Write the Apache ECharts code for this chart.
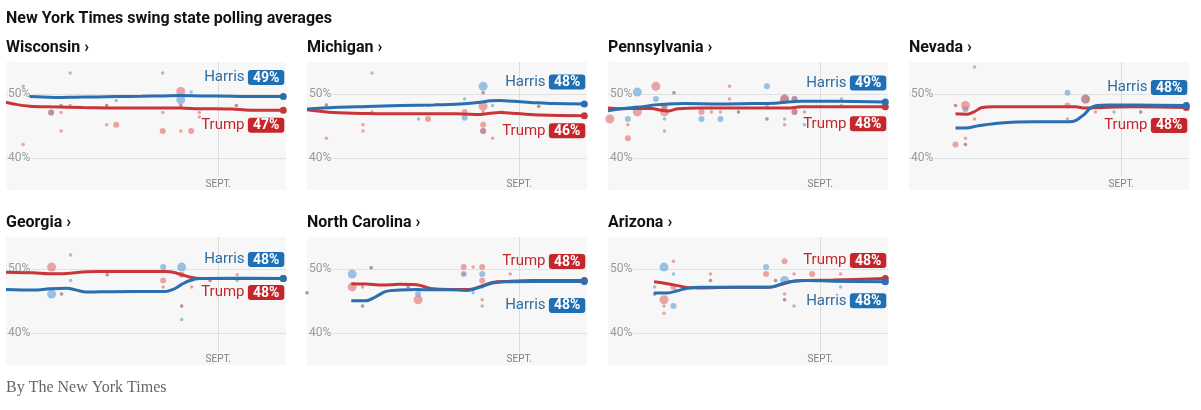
<!DOCTYPE html>
<html><head><meta charset="utf-8">
<script src="https://cdn.jsdelivr.net/npm/echarts@6/dist/echarts.min.js"></script>
<style>html,body{margin:0;padding:0;background:#fff}#c{width:1201px;height:410px}</style>
</head><body><div id="c"></div>
<script>
// ---- DATA (day = days since July 1; Sept 1 = day 62) ----
const states = ['Wisconsin','Michigan','Pennsylvania','Nevada','Georgia','North Carolina','Arizona'];
const harrisLatest = [49,48,49,48,48,48,48];
const trumpLatest  = [47,46,48,48,48,48,48];
const yTickLabels = [40, 50];
const septDay = 62;
const septLabel = 'SEPT.';

const wiHarrisAvg = [[20.2,49.6],[23,49.55],[26.8,49.45],[30,49.5],[35,49.55],[39.4,49.6],[45,49.65],[50,49.7],[53.4,49.75],[58,49.7],[65,49.65],[70,49.6],[76.4,49.6]];
const wiTrumpAvg  = [[15,48.7],[17,48.4],[20.2,48.1],[25,48.0],[32,47.9],[43,47.8],[53.4,47.8],[57.8,47.7],[65,47.65],[68,47.5],[70,47.45],[76.4,47.45]];
const wiHarrisPolls = [[18.8,51.2,1],[29.2,53.3,1],[49.7,53.3,1],[53.7,49.1,3],[56,50.3,1],[27.2,48.2,1],[37.3,48.2,1],[39.4,49,1],[53.7,48.2,1],[66,48.2,1],[25,47.1,2]];
const wiTrumpPolls  = [[18.8,42.1,1],[25,47.1,2],[27.2,48.2,1],[27.2,47.1,1],[27.2,44.2,1],[29.2,48.2,1],[37.3,45.2,1],[39.4,45.2,2],[49.7,44.2,2],[49.7,47.1,1],[53.7,50.4,3],[53.7,48.2,1],[53.7,44.2,1],[56,44.2,2],[57.8,47.1,1],[57.8,46.4,1],[66,48.2,1],[37.3,48.2,1]];

const miHarrisAvg = [[15,47.65],[20.9,47.9],[28.3,48.05],[35.7,48.2],[43,48.3],[49,48.45],[53.4,48.7],[55.6,48.95],[57.8,49.0],[60.8,48.85],[65.2,48.65],[69.6,48.5],[76.4,48.45]];
const miTrumpAvg  = [[15,47.55],[20.9,47.1],[28.3,46.95],[39,46.9],[48.2,46.9],[53.4,46.8],[55.6,47.0],[57.8,47.1],[61.5,46.95],[66.7,46.7],[76.4,46.6]];
const miHarrisPolls = [[19.3,48.3,1],[29.4,53.3,1],[39.7,46.1,1],[41.8,48.2,1],[49.9,49.2,1],[49.9,46.3,2],[54,51.2,3],[54,50.2,1],[54,44.2,2],[56.1,48.2,1],[66.3,48.1,1]];
const miTrumpPolls  = [[19.3,48.3,1],[19.3,43.1,1],[27.4,45.2,1],[27.4,44.2,1],[29.4,47.2,1],[41.8,46.1,2],[49.9,47.2,2],[54,48.1,3],[54,45.2,2],[54,44.2,2],[54,47.2,1],[54,50.2,1],[56.1,43.1,1],[58.2,47.2,1],[66.3,48.1,1]];

const paHarrisAvg = [[15,47.4],[19.4,47.8],[23.1,48.05],[25.3,48.3],[28.3,48.45],[32,48.5],[39,48.45],[46.7,48.5],[51.9,48.55],[54.8,48.75],[57.8,48.85],[65.2,48.85],[76.4,48.75]];
const paTrumpAvg  = [[15,47.8],[17.9,47.7],[20.9,47.75],[24.6,47.75],[26.8,47.45],[28.3,47.35],[30.5,47.7],[35.7,47.8],[46.7,47.8],[54.8,47.8],[57.8,48.0],[65.2,48.0],[76.4,48.0]];
const paHarrisPolls = [[19.4,46.1,2],[21.5,50.3,3],[25.6,49.2,2],[27.5,48.1,2],[27.5,46.1,1],[29.6,50.2,1],[35.7,46.1,2],[37.9,47.8,1],[39.9,46.1,2],[43.9,47.2,1],[50.2,51.2,2],[50.2,46.1,1],[54.1,49.2,3],[54.1,46.1,1],[56.3,49.2,2],[56.3,47.2,2],[58.5,45.2,1],[66.7,49.2,1]];
const paTrumpPolls  = [[15.4,46.1,3],[19.4,45.2,1],[19.4,43.1,2],[21.5,47.2,3],[25.6,51.2,3],[27.5,48.1,2],[27.5,47.2,3],[27.5,44.2,1],[29.6,50.2,1],[35.7,47.2,2],[37.9,47.2,1],[39.9,47.2,1],[41.9,51.2,1],[41.9,49.2,1],[43.9,47.2,1],[50.2,48.1,1],[50.2,46.1,1],[54.1,49.2,3],[54.1,45.2,1],[56.3,49.2,2],[56.3,47.2,2],[58.5,47.2,1],[66.7,48.2,1]];

const nvHarrisAvg = [[25.3,44.7],[27.5,44.7],[30.4,45.05],[34.1,45.4],[37.8,45.6],[43,45.65],[50.4,45.65],[51.9,45.85],[53.7,46.75],[55.2,47.8],[56.6,48.2],[59.2,48.3],[65.1,48.3],[76.4,48.2]];
const nvTrumpAvg  = [[25.3,46.9],[27.9,46.85],[29.4,47.2],[31.2,47.9],[33.8,48.0],[43,48.0],[51.9,48.0],[54,47.8],[57.8,47.9],[65.1,48.0],[76.4,47.9]];
const nvHarrisPolls = [[25.3,48.2,1],[27.5,47.6,2],[29.5,54.2,1],[27.5,42.1,1],[50.1,50.2,2],[54.1,49.2,3],[60.4,47.2,1],[66.3,47.2,1]];
const nvTrumpPolls  = [[25.3,48.2,1],[27.5,48.2,3],[29.5,46.1,1],[27.5,43.1,1],[27.5,42.1,1],[25.3,42.1,2],[50.1,48.2,2],[50.1,46.1,1],[54.1,49.2,3],[56.3,47.2,1],[66.3,47.2,1]];

const gaHarrisAvg = [[15,46.8],[21,46.7],[24.7,46.9],[28.4,47.0],[30.6,46.7],[32.8,46.4],[35.8,46.45],[43.2,46.5],[50.4,46.5],[52,46.8],[53.9,47.6],[55.7,48.2],[57.9,48.5],[65.3,48.55],[76.4,48.5]];
const gaTrumpAvg  = [[15,49.5],[21,49.4],[24.7,49.25],[28.4,49.3],[32.1,49.55],[35.8,49.6],[43.2,49.6],[50.4,49.6],[52,49.5],[53.9,49.1],[55.7,48.75],[57.9,48.5],[61.6,48.5],[76.4,48.5]];
const gaHarrisPolls = [[25.1,46.1,3],[27.3,46.1,1],[29.3,48.2,1],[37.4,49.1,1],[49.8,50.3,2],[53.9,50.3,3],[53.9,44.2,1],[53.9,42.1,1],[56.1,48.2,1],[60.2,48.2,1],[66.2,48.2,1]];
const gaTrumpPolls  = [[25.1,50.3,3],[27.3,46.1,1],[29.3,52.2,1],[37.4,49.1,1],[49.8,48.2,2],[49.8,47.2,1],[53.9,49.1,2],[53.9,44.2,1],[56.1,47.2,1],[60.2,48.2,1],[66.2,49.1,1]];

const ncHarrisAvg = [[24.8,45.05],[28.1,45.05],[30.3,45.7],[32.5,46.5],[35.5,46.7],[39.2,46.8],[42.9,46.75],[46.6,46.75],[50.3,46.65],[51.7,46.8],[53.9,47.3],[56.1,47.8],[59,48.0],[64.9,48.05],[76.4,48.05]];
const ncTrumpAvg  = [[24.8,47.7],[28.1,47.65],[31.8,47.5],[35.5,47.6],[39.2,47.55],[40.7,47.3],[42.9,46.9],[46.6,46.8],[50.3,46.8],[51.7,46.9],[53.9,47.4],[56.1,47.9],[59,48.05],[64.9,48.2],[76.4,48.2]];
const ncHarrisPolls = [[15,46.3,1],[25,49.2,3],[27.3,44.2,1],[29.2,50.2,1],[37.4,47.2,1],[39.6,46.1,2],[49.7,49.2,2],[51.8,46.3,1],[53.8,49.2,2],[53.8,47.2,1],[53.8,44.2,1]];
const ncTrumpPolls  = [[15,46.3,1],[25,47.2,3],[27.3,47.2,1],[27.3,44.2,1],[29.2,50.2,1],[37.4,47.2,1],[39.6,45.2,3],[49.7,50.3,2],[49.7,49.2,1],[51.8,50.3,1],[53.8,50.3,2],[53.8,48.2,2],[53.8,45.2,1],[60,49.2,1]];

const azHarrisAvg = [[25.2,46.25],[28.1,46.25],[30.4,46.6],[32.6,47.0],[35.5,47.15],[42.9,47.15],[50.3,47.15],[51.7,47.25],[53.9,47.8],[56.1,48.1],[59,48.2],[64.9,48.1],[76.4,48.0]];
const azTrumpAvg  = [[25.2,48.0],[28.1,47.7],[30.4,47.4],[32.6,47.1],[35.5,47.05],[42.9,47.15],[50.3,47.15],[51.7,47.25],[53.9,47.7],[56.1,48.1],[59,48.2],[64.9,48.3],[76.4,48.5]];
const azHarrisPolls = [[25.3,47.2,1],[25.3,46.1,1],[27.4,50.3,3],[29.5,49.2,1],[29.5,44.2,2],[37.7,48.2,1],[50,50.3,2],[52.1,48.2,1],[54.1,48.2,3],[54.1,45.2,1],[56.2,44.2,1],[60.2,48.2,1],[66.5,47.2,1]];
const azTrumpPolls  = [[25.3,46.1,1],[27.4,45.2,3],[27.4,44.2,1],[27.4,43.1,1],[29.5,51.2,1],[29.5,47.2,2],[37.7,49.2,1],[37.7,48.2,1],[50,49.2,2],[52.1,48.2,1],[54.1,51.2,2],[54.1,46.1,1],[54.1,45.2,1],[56.2,49.2,1],[60.2,49.2,2],[66.5,49.2,1]];

const harrisAvgs  = [wiHarrisAvg, miHarrisAvg, paHarrisAvg, nvHarrisAvg, gaHarrisAvg, ncHarrisAvg, azHarrisAvg];
const trumpAvgs   = [wiTrumpAvg, miTrumpAvg, paTrumpAvg, nvTrumpAvg, gaTrumpAvg, ncTrumpAvg, azTrumpAvg];
const harrisPolls = [wiHarrisPolls, miHarrisPolls, paHarrisPolls, nvHarrisPolls, gaHarrisPolls, ncHarrisPolls, azHarrisPolls];
const trumpPolls  = [wiTrumpPolls, miTrumpPolls, paTrumpPolls, nvTrumpPolls, gaTrumpPolls, ncTrumpPolls, azTrumpPolls];

// ---- LAYOUT / STYLE ----
const FONT = 'Roboto, "Noto Sans", sans-serif';
const BLUE = '#2a6fb0', RED = '#c9363a';
const BLUE_BADGE = '#1f6fb5', RED_BADGE = '#c4262c';
const BLUE_TXT = '#2f6ca3', RED_TXT = '#c0282e';
const PANEL_BG = '#f7f7f7';
const panelW = 280, panelH = 128;
// label vertical offsets (px) from line end: [harris, trump]
const labelDy = [[-19,15],[-22,15],[-19,17],[-18,18],[-19,14],[24,-19],[19,-18]];
const dotSize = {1:3.5, 2:6, 3:9};

const grids = [], xAxes = [], yAxes = [], series = [], titles = [];
titles.push({text:'New York Times swing state polling averages', left:6, top:11, padding:0,
  textStyle:{fontFamily:FONT, fontWeight:'bold', fontSize:16, color:'#121212'}});
titles.push({text:'By The New York Times', left:6, top:380, padding:0,
  textStyle:{fontFamily:'"Liberation Serif", serif', fontWeight:'normal', fontSize:16, color:'#666'}});

states.forEach((st, i) => {
  const col = i % 4, row = Math.floor(i / 4);
  const left = 6 + 301 * col, top = 62 + 175 * row;
  grids.push({left, top, width: panelW, height: panelH, show:true, backgroundColor: PANEL_BG, borderWidth:0, containLabel:false});
  titles.push({text: st + ' \u203A', left, top: top - 22, padding:0,
    textStyle:{fontFamily:FONT, fontWeight:'bold', fontSize:16, color:'#121212'}});
  xAxes.push({type:'value', gridIndex:i, min:15, max:77, show:false});
  yAxes.push({type:'value', gridIndex:i, min:35, max:55, interval:5,
    axisLine:{show:false}, axisTick:{show:false},
    splitLine:{show:true, lineStyle:{color:['rgba(0,0,0,0)','#e1e1e1','rgba(0,0,0,0)','#e1e1e1','rgba(0,0,0,0)'], width:1}},
    axisLabel:{inside:true, margin:2, color:'#999', fontSize:12, fontFamily:FONT,
      backgroundColor: PANEL_BG, padding:[1,1,1,0],
      formatter: v => yTickLabels.includes(v) ? v + '%' : ''}});

  const mkScatter = (arr, color, name) => ({
    type:'scatter', name, xAxisIndex:i, yAxisIndex:i, silent:true, z:1,
    data: arr.map(p => ({value:[p[0], p[1]], symbolSize: dotSize[p[2]]})),
    itemStyle:{color, opacity:0.6}
  });
  series.push(mkScatter(harrisPolls[i], '#5b9bd5', 'Harris polls'));
  series.push(mkScatter(trumpPolls[i], '#e06b6b', 'Trump polls'));

  const mkLine = (arr, color, name, pct, badge, txt, dy, extra) => Object.assign({
    type:'line', name, xAxisIndex:i, yAxisIndex:i, smooth:0.35, z:3, silent:true,
    symbol:'none', showSymbol:true,
    data: arr.map((p, k) => k === arr.length - 1
      ? {value:p, symbol:'circle', symbolSize:7, itemStyle:{color}}
      : {value:p}),
    lineStyle:{color, width:3},
    itemStyle:{color},
    endLabel:{show:true, align:'right', verticalAlign:'middle', distance:0, offset:[1, dy],
      formatter: () => '{n|' + name + '} {v|' + pct + '%}',
      rich:{
        n:{color:txt, fontSize:15, fontFamily:FONT},
        v:{color:'#fff', backgroundColor:badge, fontWeight:'bold', fontSize:14, fontFamily:FONT,
           lineHeight:15, padding:[1,5,0,5], borderRadius:3}
      }}
  }, extra || {});

  series.push(mkLine(trumpAvgs[i], RED, 'Trump', trumpLatest[i], RED_BADGE, RED_TXT, labelDy[i][1]));
  series.push(mkLine(harrisAvgs[i], BLUE, 'Harris', harrisLatest[i], BLUE_BADGE, BLUE_TXT, labelDy[i][0], {
    markLine:{silent:true, symbol:'none', z:0,
      lineStyle:{color:'#dcdcdc', width:1, type:'solid'},
      label:{show:true, position:'start', formatter: septLabel, color:'#808080', fontSize:10, fontFamily:FONT, distance:2},
      data:[[{coord:[septDay, 37]},{coord:[septDay, 55]}]]}
  }));
});

const chart = echarts.init(document.getElementById('c'), null, {renderer:'canvas'});
chart.setOption({animation:false, backgroundColor:'#fff', title:titles, grid:grids, xAxis:xAxes, yAxis:yAxes, series});
</script></body></html>
